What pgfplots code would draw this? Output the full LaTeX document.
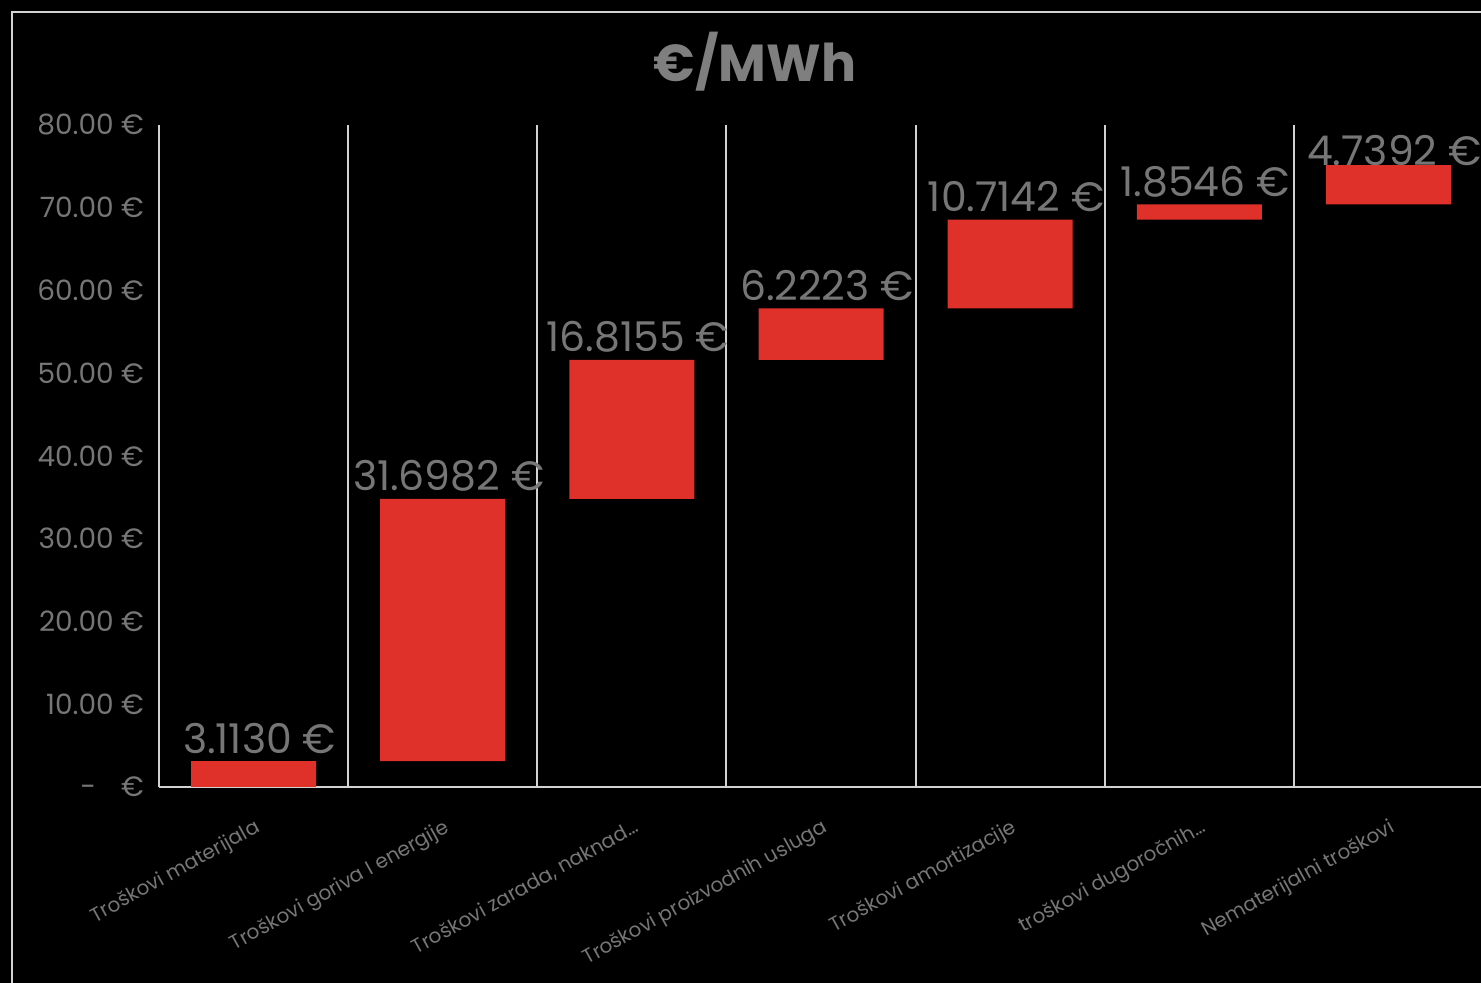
\documentclass[border=0pt]{standalone}
\usepackage{pgfplots}
\pgfplotsset{compat=1.18}
\usepackage{pgfplotstable}
\usepackage{fontspec}
\setmainfont{Poppins}
\definecolor{barred}{RGB}{223,48,42}
\definecolor{txtgray}{RGB}{118,118,118}
\definecolor{titlegray}{RGB}{127,127,127}
\definecolor{linegray}{RGB}{210,210,210}
\pgfplotstableread[col sep=comma]{
x,base,inc,top,label,shift
0,0,3.1130,3.1130,3.1130 €,4
1,3.1130,31.6982,34.8112,31.6982 €,4
2,34.8112,16.8155,51.6267,16.8155 €,4
3,51.6267,6.2223,57.8490,6.2223 €,4
4,57.8490,10.7142,68.5632,10.7142 €,4
5,68.5632,1.8546,70.4178,1.8546 €,4
6,70.4178,4.7392,75.1570,4.7392 €,0
}\wfdata
\pgfplotsset{
  wfgeom/.style={
    at={(79.5pt,98pt)}, anchor=south west,
    scale only axis, width=662pt, height=331pt,
    xmin=-0.5, xmax=6.5, ymin=0, ymax=80,
  }
}
\begin{document}
\begin{tikzpicture}
\path[use as bounding box] (0,0) rectangle (740.5pt,491.5pt);
\fill[black] (0,0) rectangle (740.5pt,491.5pt);
\begin{scope}
\clip (0,0) rectangle (740.5pt,491.5pt);
\draw[linegray, line width=0.8pt] (800pt,485.5pt) -- (6pt,485.5pt) -- (6pt,-20pt);
\node[titlegray, font=\bfseries\fontsize{26}{30}\selectfont] at (377.5pt,460.5pt) {€/MWh};
\begin{axis}[
  wfgeom,
  ybar stacked, bar width=62.5pt,
  axis line style={draw=none},
  major tick length=0pt, minor tick length=0pt,
  tick style={draw=none},
  xtick={0,...,6},
  xticklabels={{Troškovi materijala}, {Troškovi goriva I energije}, {Troškovi zarada, naknad…}, {Troškovi proizvodnih usluga}, {Troškovi amortizacije}, {troškovi dugoročnih…}, {Nematerijalni troškovi}},
  x tick label style={rotate=29, anchor=north east, text=txtgray, font=\fontsize{10}{12}\selectfont, yshift=-10pt, xshift=-4pt},
  ytick={0,10,...,80},
  yticklabels={-\hspace{0.9em}€, 10.00 €, 20.00 €, 30.00 €, 40.00 €, 50.00 €, 60.00 €, 70.00 €, 80.00 €},
  y tick label style={text=txtgray, font=\fontsize{14}{16}\selectfont, xshift=-4pt},
  minor xtick={-0.5,0.5,...,6.5},
  xminorgrids=true,
  minor grid style={linegray, line width=1pt},
  extra y ticks={0}, extra y tick labels={},
  extra y tick style={ymajorgrids=true, major grid style={linegray, line width=1pt}},
]
\addplot[draw=none, fill=none] table[x=x, y=base] {\wfdata};
\addplot[draw=none, fill=barred] table[x=x, y=inc] {\wfdata};
\end{axis}
\begin{axis}[
  wfgeom,
  hide axis,
]
\addplot[draw=none, mark=none,
  nodes near coords, point meta=explicit symbolic,
  visualization depends on={\thisrow{shift}\as\myshift},
  every node near coord/.append style={anchor=base, inner sep=0pt, yshift=\myshift pt, xshift=3pt, text=txtgray, font=\fontsize{20.5}{24}\selectfont}
] table[x=x, y=top, meta=label] {\wfdata};
\end{axis}
\end{scope}
\end{tikzpicture}
\end{document}
